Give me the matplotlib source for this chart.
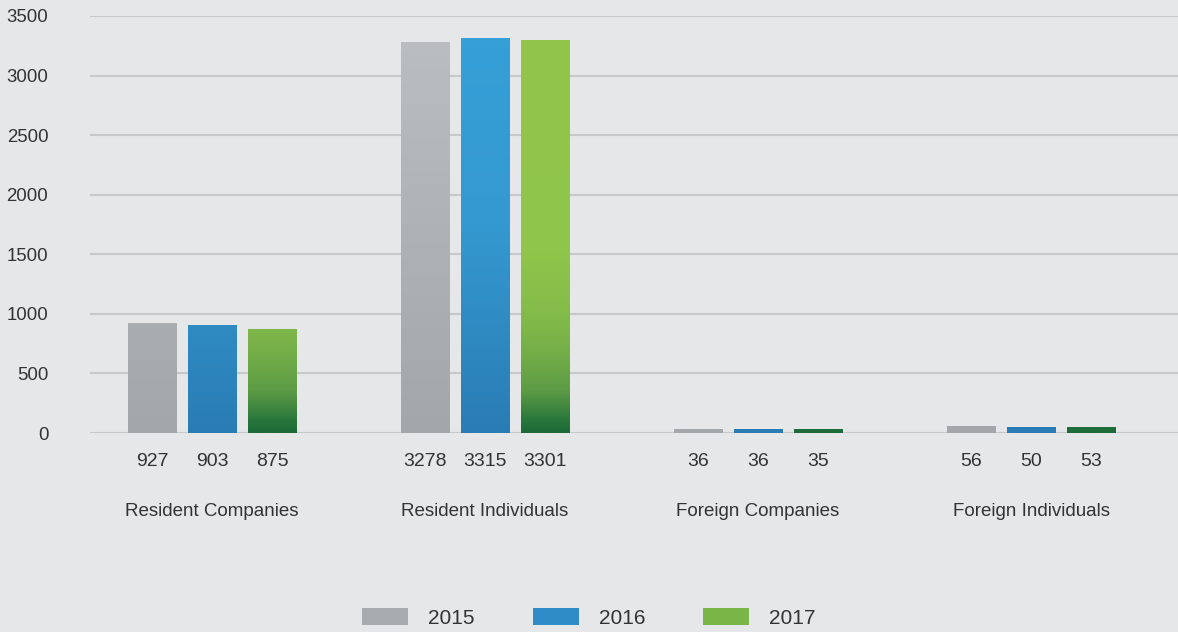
import numpy as np
from matplotlib import pyplot as plt
from matplotlib.colors import LinearSegmentedColormap
from matplotlib.patches import Patch

categories = ["Resident Companies", "Resident Individuals", "Foreign Companies", "Foreign Individuals"]
years = ["2015", "2016", "2017"]
values_2015 = [927, 3278, 36, 56]
values_2016 = [903, 3315, 36, 50]
values_2017 = [875, 3301, 35, 53]
series = [values_2015, values_2016, values_2017]

bg = "#e6e7e9"
text_color = "#333333"
# gradients are fixed along the y axis (bottom -> top of axes)
cmaps = [
    LinearSegmentedColormap.from_list("g15", [(0, "#a4a7aa"), (1, "#bcbfc2")]),
    LinearSegmentedColormap.from_list("g16", [(0, "#2a7cb4"), (0.5, "#3499d0"), (1, "#37a0d8")]),
    LinearSegmentedColormap.from_list("g17", [(0, "#1c6a38"), (0.03, "#2a773c"), (0.1, "#5d9c45"),
                                              (0.2, "#77b048"), (0.3, "#86bd4a"), (0.43, "#8fc54a"),
                                              (1, "#92c64b")]),
]
legend_colors = ["#a8abae", "#2f8cc6", "#7ab548"]

plt.rcParams['font.family'] = ['Liberation Sans', 'DejaVu Sans']

fig = plt.figure(figsize=(11.78, 6.32), dpi=100, facecolor=bg)
ax = fig.add_axes([90 / 1178, 199 / 632, 1 - 90 / 1178, 417 / 632], facecolor=bg)

ymax = 3500
x = np.arange(len(categories))
width = 0.176
offsets = [-0.22, 0, 0.22]

grad = np.linspace(0, 1, 256).reshape(-1, 1)
for k, vals in enumerate(series):
    bars = ax.bar(x + offsets[k], vals, width, color="none", edgecolor="none", zorder=3)
    for b in bars:
        im = ax.imshow(grad, cmap=cmaps[k], origin="lower", aspect="auto",
                       extent=(b.get_x(), b.get_x() + b.get_width(), 0, ymax), zorder=3)
        im.set_clip_path(b)
    for xi, v in zip(x + offsets[k], vals):
        ax.annotate(str(v), (xi, 0), xytext=(0, -28), textcoords="offset pixels",
                    ha="center", va="center", fontsize=14, color=text_color)

for xi, cat in zip(x, categories):
    ax.annotate(cat, (xi, 0), xytext=(0, -79), textcoords="offset pixels",
                ha="center", va="center", fontsize=13.5, color=text_color)

ax.set_xlim(-0.447, 3.538)
ax.set_ylim(0, ymax)
ax.set_yticks(np.arange(0, 3501, 500))
ax.set_xticks([])
ax.tick_params(axis="y", length=0, pad=30, labelsize=13.4, labelcolor=text_color)
ax.grid(axis="y", color="#c6c8ca", linewidth=1.5, zorder=0)
ax.set_axisbelow(True)
for s in ax.spines.values():
    s.set_visible(False)

handles = [Patch(facecolor=c, edgecolor="none") for c in legend_colors]
fig.legend(handles, years, loc="center", bbox_to_anchor=(589 / 1178, 1 - 618 / 632), ncol=3,
           frameon=False, fontsize=15, labelcolor=text_color, handlelength=2.2,
           handleheight=0.9, handletextpad=0.95, columnspacing=2.8)

fig.savefig("out.png", dpi=100, facecolor=bg)
